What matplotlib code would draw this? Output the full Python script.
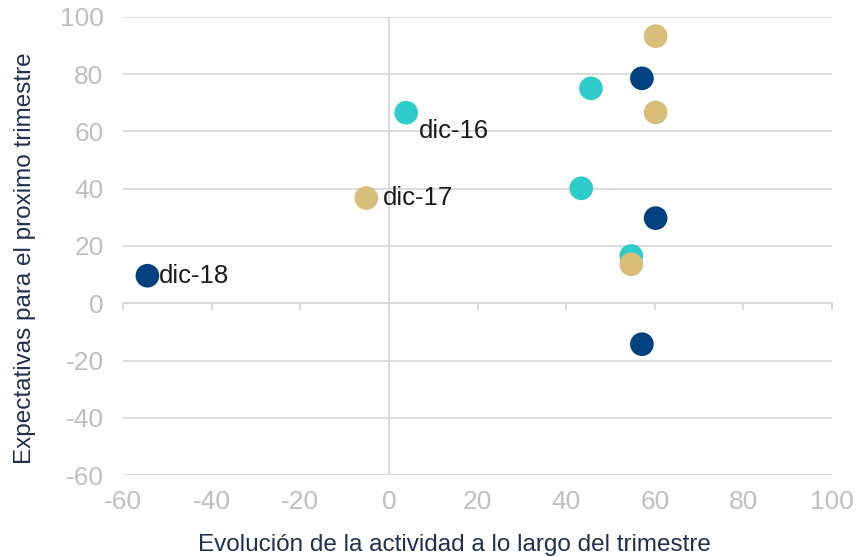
import matplotlib
matplotlib.use("Agg")
import matplotlib.pyplot as plt

plt.rcParams.update({"font.family": ["Liberation Sans", "DejaVu Sans"]})

# actividad (x) vs expectativas (y), una serie por color
teal_x = [3.9, 45.6, 43.4, 54.7]
teal_y = [66.5, 75.0, 40.1, 16.5]
tan_x = [-5.1, 60.2, 60.2, 54.7]
tan_y = [36.7, 93.2, 66.6, 13.6]
navy_x = [-54.5, 57.1, 60.2, 57.1]
navy_y = [9.6, 78.5, 29.7, -14.3]

# etiquetas: (texto, serie, indice del punto)
labels = [("dic-16", "teal", 0), ("dic-17", "tan", 0), ("dic-18", "navy", 0)]

xticks = [-60, -40, -20, 0, 20, 40, 60, 80, 100]
yticks = [-60, -40, -20, 0, 20, 40, 60, 80, 100]

C = {"teal": "#2ECDCB", "tan": "#D8BE78", "navy": "#00427F"}
GRID = "#D9D9D9"
TICK = "#BFBFBF"
LAB = "#1F3050"

fig = plt.figure(figsize=(8.58, 5.57), dpi=100)
ax = fig.add_axes([0.1434, 0.147, 0.8263, 0.823])

series = {"teal": (teal_x, teal_y), "tan": (tan_x, tan_y), "navy": (navy_x, navy_y)}
for name in ["teal", "tan", "navy"]:
    xs, ys = series[name]
    ax.scatter(xs, ys, s=290, color=C[name], edgecolors="none", zorder=3)

offs = {"dic-16": (9, -13), "dic-17": (12, 0), "dic-18": (8, 0)}
for txt, name, i in labels:
    xs, ys = series[name]
    dx, dy = offs[txt]
    ax.annotate(txt, (xs[i], ys[i]), xytext=(dx, dy), textcoords="offset points",
                fontsize=18.5, color="#1A1A1A", va="center", ha="left", zorder=4)

ax.set_xlim(-60, 100)
ax.set_ylim(-60, 100)
ax.set_yticks(yticks)
ax.set_yticklabels([str(v) for v in yticks])
ax.grid(axis="y", color=GRID, lw=1.3, zorder=0)
ax.axvline(0, color=GRID, lw=1.3, zorder=1)

for s in ["top", "right", "left"]:
    ax.spines[s].set_visible(False)
ax.spines["bottom"].set_position(("data", 0))
ax.spines["bottom"].set_color(GRID)
ax.spines["bottom"].set_linewidth(1.3)
ax.set_xticks(xticks)
ax.tick_params(axis="x", direction="out", length=5, width=1.3, color=GRID, labelbottom=False)
ax.tick_params(axis="y", length=0, labelsize=19, labelcolor=TICK, pad=14)

sec = ax.secondary_xaxis("bottom")
sec.set_xticks(xticks)
sec.set_xticklabels([str(v) for v in xticks])
sec.tick_params(length=0, labelsize=19, labelcolor=TICK, pad=11)
sec.spines["bottom"].set_visible(False)

ax.set_xlabel("Evolución de la actividad a lo largo del trimestre", fontsize=17.5, color=LAB)
ax.xaxis.set_label_coords(0.467, -0.128)
ax.set_ylabel("Expectativas para el proximo trimestre", fontsize=17.5, color=LAB)
ax.yaxis.set_label_coords(-0.123, 0.474)

fig.savefig("out.png", dpi=100)
